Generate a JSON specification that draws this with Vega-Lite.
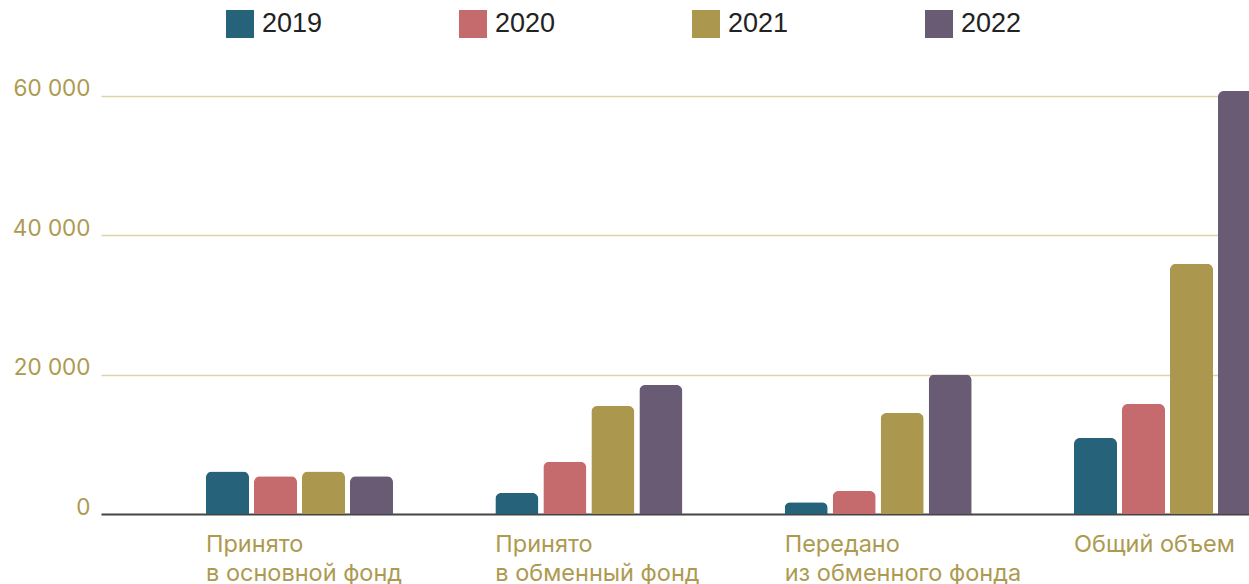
{
  "$schema": "https://vega.github.io/schema/vega-lite/v6.json",
  "width": 1265,
  "height": 453,
  "autosize": {"type": "none"},
  "padding": {"left": 101, "top": 61, "right": -117, "bottom": 70},
  "background": "#ffffff",
  "config": {"view": {"stroke": null}},
  "data": {
    "values": [
      {"cat": "Принято в основной фонд", "year": "2019", "value": 6100},
      {"cat": "Принято в основной фонд", "year": "2020", "value": 5400},
      {"cat": "Принято в основной фонд", "year": "2021", "value": 6100},
      {"cat": "Принято в основной фонд", "year": "2022", "value": 5400},
      {"cat": "Принято в обменный фонд", "year": "2019", "value": 3000},
      {"cat": "Принято в обменный фонд", "year": "2020", "value": 7500},
      {"cat": "Принято в обменный фонд", "year": "2021", "value": 15500},
      {"cat": "Принято в обменный фонд", "year": "2022", "value": 18500},
      {"cat": "Передано из обменного фонда", "year": "2019", "value": 1700},
      {"cat": "Передано из обменного фонда", "year": "2020", "value": 3300},
      {"cat": "Передано из обменного фонда", "year": "2021", "value": 14500},
      {"cat": "Передано из обменного фонда", "year": "2022", "value": 20000},
      {"cat": "Общий объем", "year": "2019", "value": 10900},
      {"cat": "Общий объем", "year": "2020", "value": 15800},
      {"cat": "Общий объем", "year": "2021", "value": 35900},
      {"cat": "Общий объем", "year": "2022", "value": 60700}
    ]
  },
  "mark": {"type": "bar", "cornerRadiusTopLeft": 6, "cornerRadiusTopRight": 6},
  "encoding": {
    "x": {
      "field": "cat",
      "type": "nominal",
      "sort": null,
      "scale": {"paddingInner": 0.3537, "paddingOuter": 0.3629},
      "axis": {
        "title": null,
        "domain": false,
        "ticks": false,
        "grid": false,
        "labelAlign": "left",
        "labelBaseline": "alphabetic",
        "labelAngle": 0,
        "labelPadding": 37,
        "labelOffset": -93.5,
        "labelFont": "Inter",
        "labelFontSize": 23.5,
        "labelLineHeight": 29,
        "labelColor": "#ad9a50",
        "labelLimit": 400,
        "labelExpr": "datum.label == 'Принято в основной фонд' ? ['Принято', 'в основной фонд'] : datum.label == 'Принято в обменный фонд' ? ['Принято', 'в обменный фонд'] : datum.label == 'Передано из обменного фонда' ? ['Передано', 'из обменного фонда'] : datum.label"
      }
    },
    "xOffset": {
      "field": "year",
      "type": "nominal",
      "scale": {"paddingInner": 0.104, "paddingOuter": 0}
    },
    "y": {
      "field": "value",
      "type": "quantitative",
      "scale": {"domain": [0, 65000], "nice": false},
      "axis": {
        "title": null,
        "domain": false,
        "ticks": false,
        "values": [0, 20000, 40000, 60000],
        "labelExpr": "replace(format(datum.value, ',d'), ',', ' ')",
        "labelFont": "Inter",
        "labelFontSize": 22.5,
        "labelColor": "#ad9a50",
        "labelPadding": 11,
        "labelBaseline": "alphabetic",
        "labelOffset": 0,
        "gridColor": {"condition": {"test": "datum.value === 0", "value": "#444444"}, "value": "#ddd3a8"},
        "gridWidth": {"condition": {"test": "datum.value === 0", "value": 2}, "value": 1.5}
      }
    },
    "color": {
      "field": "year",
      "type": "nominal",
      "scale": {"domain": ["2019", "2020", "2021", "2022"], "range": ["#26637a", "#c56b6d", "#ab984e", "#6a5b74"]},
      "legend": {
        "title": null,
        "orient": "none",
        "legendX": 125,
        "legendY": -51,
        "direction": "horizontal",
        "columns": 4,
        "columnPadding": 136,
        "symbolType": "square",
        "symbolSize": 784,
        "symbolStrokeWidth": 0,
        "symbolOpacity": 1,
        "labelFont": "Liberation Sans",
        "labelFontSize": 27,
        "labelColor": "#222222",
        "labelOffset": 8
      }
    }
  }
}
